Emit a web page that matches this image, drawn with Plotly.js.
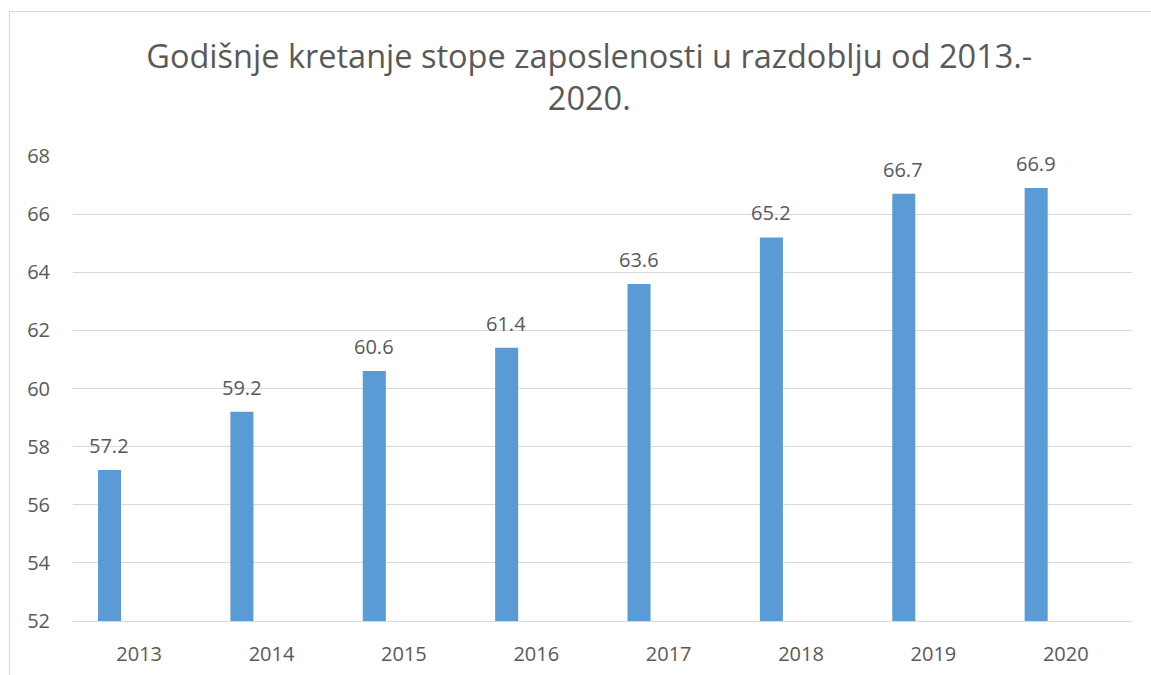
<!DOCTYPE html>
<html>
<head>
<meta charset="utf-8">
<script src="https://cdn.plot.ly/plotly-3.0.1.min.js"></script>
<style>
  html, body { margin: 0; padding: 0; background: #ffffff; }
  #frame { position: absolute; left: 9px; top: 11px; width: 1200px; height: 700px; border: 1px solid #d9d9d9; box-sizing: border-box; }
  #chart { position: absolute; left: 0; top: 0; width: 1151px; height: 675px; }
</style>
</head>
<body>
<div id="frame"></div>
<div id="chart"></div>
<script>
const titleText = 'Godišnje kretanje stope zaposlenosti u razdoblju od 2013.-<br>2020.';
const years = ['2013', '2014', '2015', '2016', '2017', '2018', '2019', '2020'];
const rates = [57.2, 59.2, 60.6, 61.4, 63.6, 65.2, 66.7, 66.9];
const yTicks = [52, 54, 56, 58, 60, 62, 64, 66, 68];
const yMin = 52, yMax = 68;

const textColor = '#595959';
const fontFam = '"Open Sans", "Noto Sans", sans-serif';

const trace = {
  type: 'bar',
  x: years,
  y: rates.map(v => v - yMin),
  base: yMin,
  offset: -0.311,
  width: 0.174,
  marker: { color: '#5B9BD5', line: { width: 0 } },
  hoverinfo: 'skip'
};

const annotations = years.map((yr, i) => ({
  x: i,
  y: rates[i],
  xref: 'x',
  yref: 'y',
  text: String(rates[i]),
  showarrow: false,
  yanchor: 'bottom',
  xshift: -30,
  yshift: 9,
  font: { family: fontFam, size: 20, color: textColor }
}));

const layout = {
  width: 1151,
  height: 675,
  paper_bgcolor: 'rgba(0,0,0,0)',
  plot_bgcolor: 'rgba(0,0,0,0)',
  margin: { l: 73, r: 19, t: 156, b: 54 },
  showlegend: false,
  title: {
    text: titleText,
    font: { family: fontFam, size: 32.5, color: textColor },
    x: 0.512,
    xanchor: 'center',
    y: 0.9,
    yanchor: 'middle'
  },
  xaxis: {
    type: 'category',
    categoryorder: 'array',
    categoryarray: years,
    range: [-0.5, years.length - 0.5],
    autorange: false,
    showgrid: false,
    showline: true,
    linecolor: '#d9d9d9',
    linewidth: 1,
    ticks: '',
    tickfont: { family: fontFam, size: 20, color: textColor },
    ticklabelstandoff: 15
  },
  yaxis: {
    range: [yMin, yMax],
    autorange: false,
    tickvals: yTicks,
    ticktext: yTicks.map(String),
    showgrid: true,
    gridcolor: '#d9d9d9',
    gridwidth: 1,
    zeroline: false,
    showline: false,
    ticks: '',
    ticklabelstandoff: 22,
    tickfont: { family: fontFam, size: 20, color: textColor }
  },
  annotations: annotations
};

Plotly.newPlot('chart', [trace], layout, { displayModeBar: false, staticPlot: true });
</script>
</body>
</html>
